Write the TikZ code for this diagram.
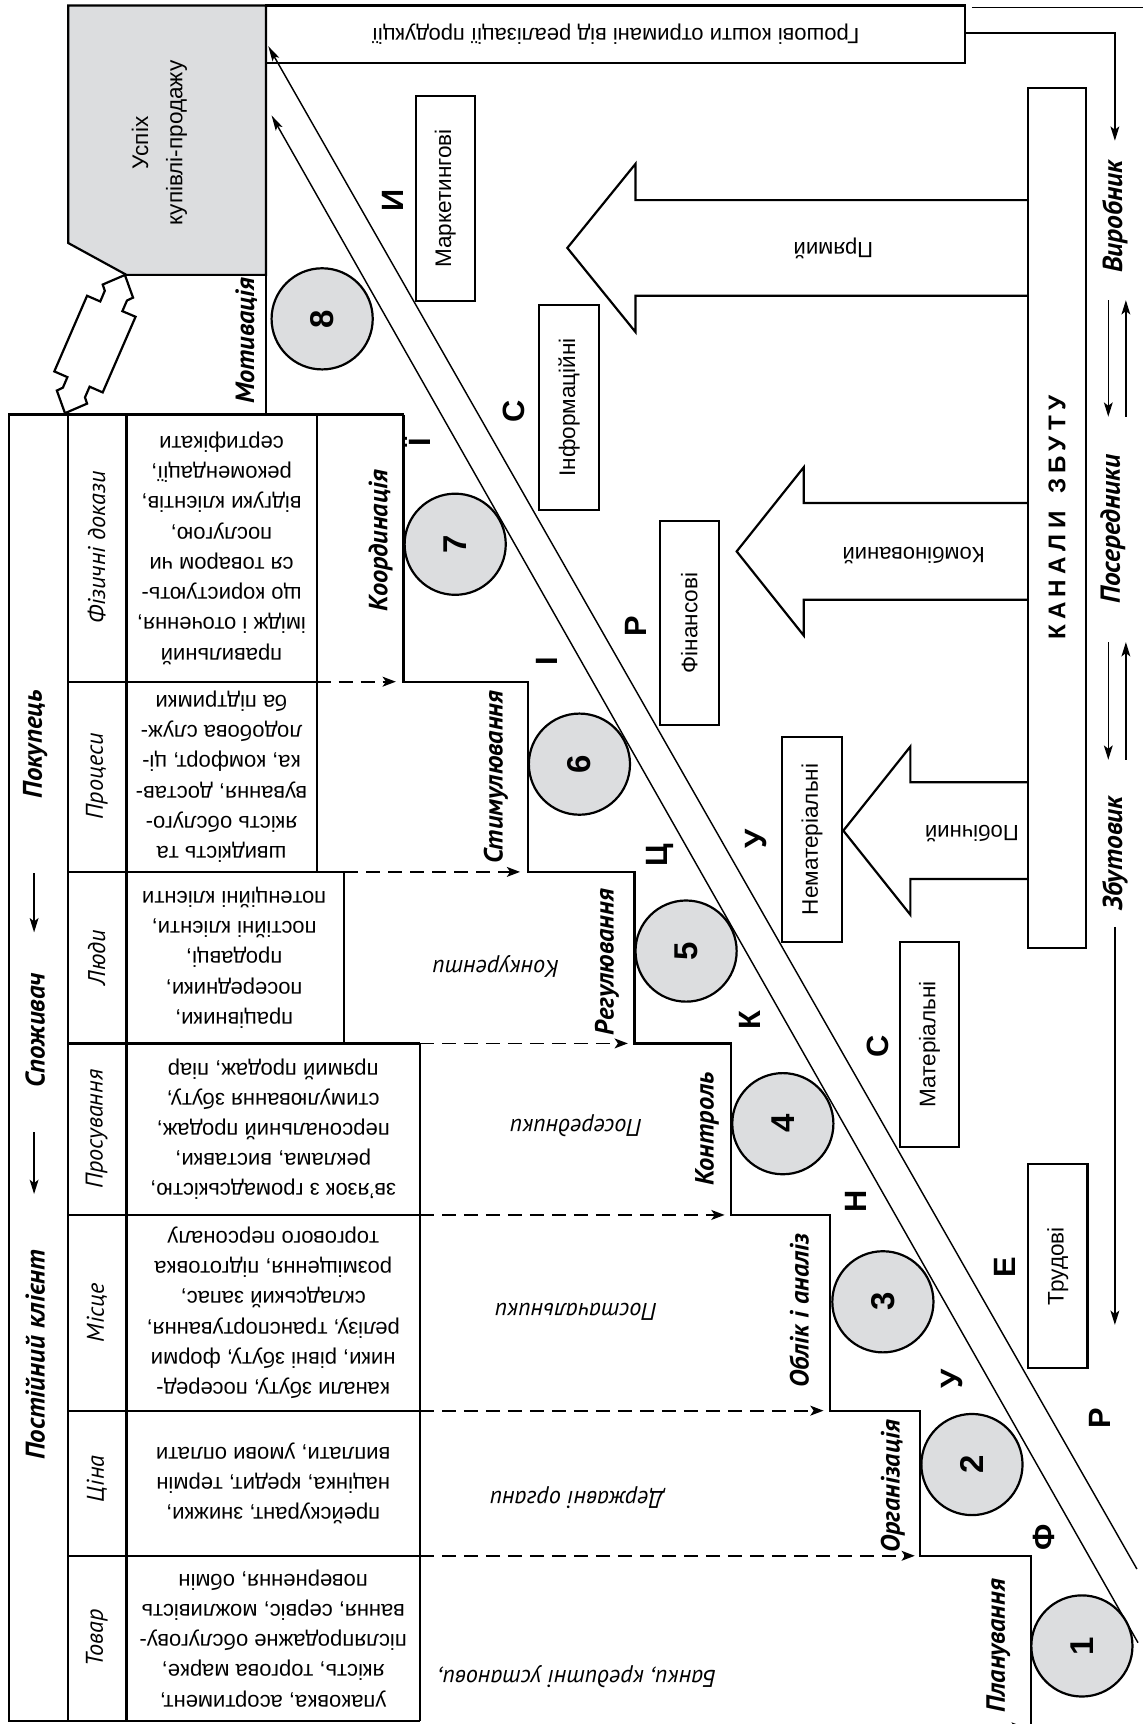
\documentclass[tikz,border=0pt]{standalone}
\usepackage{fontspec}
\setmainfont{Liberation Sans}
\newfontfamily\ptsans{PT Sans}
\usetikzlibrary{arrows.meta}
\definecolor{lgray}{HTML}{DCDDDF}
\begin{document}
\begin{tikzpicture}[x=1pt,y=-1pt,
  every node/.style={inner sep=0pt, outer sep=0pt},
  thickline/.style={line width=2pt, line join=miter},
  desc/.style={rotate=180, align=center, font=\fontsize{20}{27.5}\selectfont},
  colhead/.style={rotate=90, font=\ptsans\itshape\fontsize{22}{24}\selectfont},
  outhead/.style={rotate=90, font=\ptsans\bfseries\itshape\fontsize{24.5}{26}\selectfont},
  steplabel/.style={rotate=90, font=\ptsans\bfseries\itshape\fontsize{24}{26}\selectfont},
  envlabel/.style={rotate=180, font=\ptsans\itshape\fontsize{22}{24}\selectfont},
  circ/.style={circle, draw, line width=2pt, fill=lgray, minimum size=92pt, rotate=90, font=\bfseries\fontsize{30}{32}\selectfont},
  bigletter/.style={rotate=90, font=\bfseries\fontsize{28}{30}\selectfont},
  resbox/.style={draw, line width=2pt, fill=white, rotate=90, minimum width=186pt, minimum height=54pt, font=\fontsize{20.5}{24}\selectfont},
  agent/.style={rotate=90, font=\ptsans\bfseries\itshape\fontsize{25}{27}\selectfont},
  dasharrow/.style={line width=1.6pt, dash pattern=on 13pt off 7pt, -{Stealth[length=12pt,width=9pt,inset=3pt]}},
  thinarrow/.style={line width=1.4pt, -{Stealth[length=13pt,width=8pt,inset=3pt]}},
  diag/.style={line width=1.3pt, -{Stealth[length=14pt,width=7pt,inset=3pt]}},
  blockarrow/.style={draw, line width=2pt, fill=white, line join=miter},
  arrowtext/.style={rotate=180, font=\fontsize{20}{24}\selectfont},
]
\useasboundingbox (0,0) rectangle (1040,1568);
\fill[white] (0,0) rectangle (1040,1568);

% ---------- Success box ----------
\coordinate (U1) at (62,5);
\coordinate (U2) at (242,5);
\coordinate (U3) at (242,250);
\coordinate (U4) at (115,250);
\coordinate (U5) at (62,221);
\draw[thickline, fill=lgray] (U1) -- (U2) -- (U3) -- (U4) -- (U5) -- cycle;
\node[rotate=90, align=center, font=\fontsize{20.5}{31}\selectfont] (uspih) at (145,130) {Успіх\\купівлі-продажу};

% ---------- Money box ----------
\node[draw, line width=2pt, minimum width=636pt, minimum height=52pt, rotate=180,
      font=\fontsize{20}{24}\selectfont] (money) at (560,31) {Грошові кошти отримані від реалізації продукції};

% ---------- Table ----------
\coordinate (T8) at (242,377);
\draw[thickline] (U3) -- (T8);
\draw[thickline] (8,377) rectangle (62,1565);
\draw[thickline] (115,377) -- (115,1565);
\draw[thickline] (8,377) -- (367,377);
\draw[thickline] (8,1565) -- (382,1565);
\draw[thickline] (62,620) -- (288,620);
\draw[thickline] (62,793) -- (313,793);
\draw[thickline] (62,949) -- (382,949);
\draw[thickline] (62,1105) -- (382,1105);
\draw[thickline] (62,1283) -- (382,1283);
\draw[thickline] (62,1415) -- (382,1415);
\draw[thickline] (288,377) -- (288,793);
\draw[thickline] (313,793) -- (313,949);
\draw[thickline] (382,949) -- (382,1565);

% staircase
\draw[thickline] (367,377) -- (367,620) -- (480,620) -- (480,793) -- (577,793) -- (577,949)
  -- (665,949) -- (665,1105) -- (755,1105) -- (755,1283) -- (837,1283) -- (837,1415)
  -- (938,1415) -- (938,1570);

% dashed arrows
\coordinate (d7a) at (288,620);  \coordinate (d7b) at (360,620);
\coordinate (d6a) at (313,793);  \coordinate (d6b) at (473,793);
\coordinate (d5a) at (382,949);  \coordinate (d5b) at (571,949);
\coordinate (d4a) at (382,1105); \coordinate (d4b) at (659,1105);
\coordinate (d3a) at (382,1283); \coordinate (d3b) at (749,1283);
\coordinate (d2a) at (382,1415); \coordinate (d2b) at (832,1415);
\coordinate (d1a) at (382,1571); \coordinate (d1b) at (932,1571);
\draw[dasharrow] (d7a) -- (d7b);
\draw[dasharrow] (d6a) -- (d6b);
\draw[dasharrow] (d5a) -- (d5b);
\draw[dasharrow] (d4a) -- (d4b);
\draw[dasharrow] (d3a) -- (d3b);
\draw[dasharrow] (d2a) -- (d2b);
\draw[dasharrow] (d1a) -- (d1b);

% outer header column
\node[outhead] (pokup) at (32,677) {Покупець};
\node[outhead] (spozh) at (32,937) {Споживач};
\node[outhead] (postk) at (32,1232) {Постійний клієнт};
\coordinate (oa1) at (31,794);  \coordinate (oa2) at (31,848);
\coordinate (ob1) at (31,1030); \coordinate (ob2) at (31,1086);
\draw[thinarrow] (oa1) -- (oa2);
\draw[thinarrow] (ob1) -- (ob2);

% column headers
\node[colhead] (h7) at (88,498) {Фізичні докази};
\node[colhead] (h6) at (88,706) {Процеси};
\node[colhead] (h5) at (88,871) {Люди};
\node[colhead] (h4) at (88,1027) {Просування};
\node[colhead] (h3) at (88,1194) {Місце};
\node[colhead] (h2) at (88,1345) {Ціна};
\node[colhead] (h1) at (88,1490) {Товар};

% descriptions
\node[desc] (e7) at (201.5,498.5) {правильний\\імідж і оточення,\\що користують-\\ся товаром чи\\послугою,\\відгуки клієнтів,\\рекомендації,\\сертифікати};
\node[desc] (e6) at (201.5,706.5) {швидкість та\\якість обслуго-\\вування, достав-\\ка, комфорт, ці-\\лодобова служ-\\ба підтримки};
\node[desc] (e5) at (213,871) {працівники,\\посередники,\\продавці,\\постійні клієнти,\\потенційні клієнти};
\node[desc] (e4) at (248.5,1027) {зв’язок з громадськістю,\\реклама, виставки,\\персональний продаж,\\стимулювання збуту,\\прямий продаж, піар};
\node[desc] (e3) at (248.5,1194) {канали збуту, посеред-\\ники, рівні збуту, форми\\релізу, транспортування,\\складський запас,\\розміщення, підготовка\\торгового персоналу};
\node[desc] (e2) at (248.5,1349) {прейскурант, знижки,\\націнка, кредит, термін\\виплати, умови оплати};
\node[desc] (e1) at (248.5,1490) {упаковка, асортимент,\\якість, торгова марке,\\післяпродажне обслугову-\\вання, сервіс, можливість\\повернення, обмін};

% environment labels
\node[envlabel] (env1) at (525,1525) {Банки, кредитні установи,};
\node[envlabel] (env2) at (525,1362) {Державні органи};
\node[envlabel] (env3) at (524,1193) {Постачальники};
\node[envlabel] (env4) at (524,1024) {Посередники};
\node[envlabel] (env5) at (451,879) {Конкуренти};

% step labels
\node[steplabel] (s1) at (908,1497) {Планування};
\node[steplabel] (s2) at (812,1352) {Організація};
\node[steplabel] (s3) at (727,1192) {Облік і аналіз};
\node[steplabel] (s4) at (643,1027) {Контроль};
\node[steplabel] (s5) at (552,875) {Регулювання};
\node[steplabel] (s6) at (451,707) {Стимулювання};
\node[steplabel] (s7) at (346,492) {Координація};
\node[steplabel] (s8) at (224,310) {Мотивація};

% double arrow between client and success
\draw[thickline, fill=white] (113.6,250.1) -- (121.0,270.7) -- (115.5,273.3) -- (111.3,283.0)
  -- (123.3,288.1) -- (93.4,356.9) -- (81.5,351.7) -- (77.3,361.4) -- (79.2,367.1)
  -- (59.1,375.8) -- (51.7,355.2) -- (57.2,352.6) -- (61.3,343.0) -- (49.4,337.8)
  -- (79.2,269.0) -- (91.2,274.2) -- (95.3,264.5) -- (93.4,258.8) -- cycle;

% diagonal lines
\coordinate (Aend) at (1035,1494); \coordinate (Atip) at (247,105);
\coordinate (Bend) at (1034,1427); \coordinate (Btip) at (244,42);
\draw[diag] (Aend) -- (Atip);
\draw[diag] (Bend) -- (Btip);

% circles
\node[circ] (c1) at (984,1497) {1};
\node[circ] (c2) at (884,1332) {2};
\node[circ] (c3) at (803,1184) {3};
\node[circ] (c4) at (712,1022) {4};
\node[circ] (c5) at (624,865) {5};
\node[circ] (c6) at (527,695) {6};
\node[circ] (c7) at (414,495) {7};
\node[circ] (c8) at (293,290) {8};

% functions letters
\node[bigletter] (f1) at (949,1398) {Ф};
\node[bigletter] (f2) at (866,1254) {У};
\node[bigletter] (f3) at (778,1093) {Н};
\node[bigletter] (f4) at (682,928) {К};
\node[bigletter] (f5) at (600,778) {Ц};
\node[bigletter] (f6) at (497,601) {І};
\node[bigletter] (f7) at (380,402) {Ї};

% resources letters
\node[bigletter] (r1) at (1000,1290) {Р};
\node[bigletter] (r2) at (914,1153) {Е};
\node[bigletter] (r3) at (798,952) {С};
\node[bigletter] (r4) at (688,763) {У};
\node[bigletter] (r5) at (578,570) {Р};
\node[bigletter] (r6) at (467,374) {С};
\node[bigletter] (r7) at (357,182) {И};

% resource boxes
\node[resbox] (b1) at (962,1151.5) {Трудові};
\node[resbox] (b2) at (845.5,950) {Матеріальні};
\node[resbox] (b3) at (738.5,763.5) {Нематеріальні};
\node[resbox] (b4) at (627,566.5) {Фінансові};
\node[resbox] (b5) at (517.5,370.5) {Інформаційні};
\node[resbox] (b6) at (405,180.5) {Маркетингові};

% block arrows
\draw[blockarrow] (935,182) -- (578,182) -- (578,149) -- (516,225.5) -- (578,302) -- (578,269) -- (935,269);
\draw[blockarrow] (935,457.5) -- (731,457.5) -- (731,425) -- (670,501.5) -- (731,578) -- (731,545.5) -- (935,545.5);
\draw[blockarrow] (935,711.5) -- (828,711.5) -- (828,679) -- (767,755.5) -- (828,832) -- (828,799.5) -- (935,799.5);
\node[arrowtext] (t1) at (758,226) {Прямий};
\node[arrowtext] (t2) at (831,505) {Комбінований};
\node[arrowtext] (t3) at (884,758) {Побічний};

% channels box
\node[draw, line width=2pt, fill=white, rotate=90, minimum width=782pt, minimum height=53pt,
      font=\bfseries\fontsize{22}{24}\selectfont\addfontfeature{LetterSpace=22}] (kanaly) at (961.5,471)
      {КАНАЛИ\hspace{16pt}ЗБУТУ};

% right side agents
\node[agent] (vyr) at (1014,197) {Виробник};
\node[agent] (pos) at (1012,481) {Посередники};
\node[agent] (zbut) at (1014,776) {Збутовик};

\coordinate (m1) at (884,7);  \coordinate (m1e) at (1040,7);
\draw[line width=1.4pt] (m1) -- (m1e);
\coordinate (m2) at (878,30); \coordinate (m2c) at (1014,30); \coordinate (m2e) at (1014,128);
\draw[thinarrow] (m2) -- (m2c) -- (m2e);

\coordinate (p1a) at (1008,273); \coordinate (p1b) at (1008,379);
\coordinate (p2a) at (1024,379); \coordinate (p2b) at (1024,273);
\draw[thinarrow] (p1a) -- (p1b);
\draw[thinarrow] (p2a) -- (p2b);
\coordinate (q1a) at (1008,584); \coordinate (q1b) at (1008,691);
\coordinate (q2a) at (1024,691); \coordinate (q2b) at (1024,584);
\draw[thinarrow] (q1a) -- (q1b);
\draw[thinarrow] (q2a) -- (q2b);
\coordinate (z1) at (1014,843); \coordinate (z2) at (1014,1205);
\draw[thinarrow] (z1) -- (z2);
\end{tikzpicture}
\end{document}
